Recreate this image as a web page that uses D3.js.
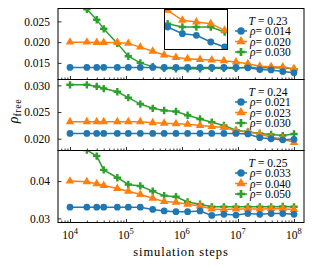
<!DOCTYPE html>
<html>
<head>
<meta charset="utf-8">
<script src="https://cdn.jsdelivr.net/npm/d3@7"></script>
<style>
	body { margin: 0; background: #fff; }
	text { font-family: "Liberation Serif", serif; fill: #000; }
</style>
</head>
<body>
<svg id="chart" width="316" height="268"></svg>
<script>
// Simulation steps, shared by every curve
var steps = [1e4, 2e4, 3e4, 4e4, 7e4, 1.1e5, 1.8e5, 3e5, 4.8e5, 7.8e5,
	1.26e6, 2.1e6, 3.4e6, 5.6e6, 9.2e6, 1.5e7, 2.45e7, 3.9e7, 6.3e7, 1e8]

var temps = ["0.23", "0.24", "0.25"]

// T = 0.23
var rho023 = ["0.014", "0.020", "0.030"]
var free023_a = [0.0139, 0.0139, 0.0139, 0.0139, 0.0139, 0.0139, 0.0139, 0.0139, 0.0139, 0.0139,
	0.0139, 0.0139, 0.0139, 0.0139, 0.0139, 0.0138, 0.0134, 0.0133, 0.0129, 0.0126]
var free023_b = [0.0200, 0.0200, 0.0199, 0.0199, 0.0199, 0.0197, 0.0188, 0.0178, 0.0169, 0.0163,
	0.0160, 0.0158, 0.0157, 0.0155, 0.0152, 0.0148, 0.0142, 0.0141, 0.0140, 0.0136]
var free023_c = [0.0298, 0.0279, 0.0254, 0.0232, 0.0197, 0.0166, 0.0150, 0.0141, 0.0137, 0.0136,
	0.0136, 0.0136, 0.0137, 0.0137, 0.0137, 0.0140, 0.0138, 0.0138, 0.0138, 0.0135]

// T = 0.24
var rho024 = ["0.021", "0.023", "0.030"]
var free024_a = [0.0210, 0.0210, 0.0210, 0.0210, 0.0210, 0.0210, 0.0210, 0.0210, 0.0210, 0.0210,
	0.0210, 0.0210, 0.0210, 0.0210, 0.0210, 0.0209, 0.0202, 0.0200, 0.0198, 0.0199]
var free024_b = [0.0232, 0.0232, 0.0232, 0.0232, 0.0232, 0.0232, 0.0232, 0.0230, 0.0229, 0.0228,
	0.0227, 0.0225, 0.0223, 0.0221, 0.0215, 0.0212, 0.0209, 0.0203, 0.0200, 0.0193]
var free024_c = [0.0301, 0.0301, 0.0298, 0.0294, 0.0288, 0.0277, 0.0265, 0.0257, 0.0253, 0.0251,
	0.0244, 0.0237, 0.0231, 0.0225, 0.0216, 0.0213, 0.0210, 0.0208, 0.0206, 0.0209]

// T = 0.25
var rho025 = ["0.033", "0.040", "0.050"]
var free025_a = [0.0330, 0.0330, 0.0330, 0.0330, 0.0330, 0.0330, 0.0330, 0.0324, 0.0320, 0.0318,
	0.0318, 0.0320, 0.0308, 0.0311, 0.0309, 0.0313, 0.0311, 0.0313, 0.0313, 0.0311]
var free025_b = [0.0400, 0.0398, 0.0393, 0.0388, 0.0380, 0.0373, 0.0364, 0.0354, 0.0345, 0.0343,
	0.0338, 0.0333, 0.0325, 0.0324, 0.0325, 0.0325, 0.0325, 0.0326, 0.0326, 0.0324]
var free025_c = [0.0500, 0.0483, 0.0467, 0.0430, 0.0409, 0.0391, 0.0387, 0.0373, 0.0361, 0.0358,
	0.0344, 0.0338, 0.0331, 0.0331, 0.0331, 0.0331, 0.0331, 0.0331, 0.0332, 0.0331]

// Tick values
var xTicks = [1e4, 1e5, 1e6, 1e7, 1e8]
var yTicks023 = [0.015, 0.020, 0.025]
var yTicks024 = [0.020, 0.025, 0.030]
var yTicks025 = [0.03, 0.04]

var colors = ["#1f77b4", "#ff7f0e", "#2ca02c"]
var symbols = [d3.symbolCircle, d3.symbolTriangle, d3.symbolCross]
var symbolSizes = [36, 32, 30]

var left = 58, right = 304

var panels = [
	{ top: 8.5, bottom: 79.5, domain: [0.0110, 0.0281], ticks: yTicks023, fmt: ".3f", temp: temps[0], rhos: rho023, series: [free023_a, free023_b, free023_c] },
	{ top: 79.5, bottom: 150.5, domain: [0.0178, 0.0311], ticks: yTicks024, fmt: ".3f", temp: temps[1], rhos: rho024, series: [free024_a, free024_b, free024_c] },
	{ top: 150.5, bottom: 222.5, domain: [0.0289, 0.0482], ticks: yTicks025, fmt: ".2f", temp: temps[2], rhos: rho025, series: [free025_a, free025_b, free025_c] }
]

var svg = d3.select("#chart")

// log x scale: 10^4 .. 10^8 span 56px per decade
var x = d3.scaleLog()
	.domain([6105, 1.509e8])
	.range([left, right])

// minor ticks 2..9 x 10^k inside the domain
var minorTicks = []
d3.range(3, 9).forEach(function (e) {
	d3.range(2, 10).forEach(function (m) {
		var v = m * Math.pow(10, e)
		if (v > x.domain()[0] && v < x.domain()[1]) minorTicks.push(v)
	})
})

function drawSeries(g, xs, ys, k, values) {
	var pts = d3.zip(steps, values)
	g.append("path")
		.datum(pts)
		.attr("fill", "none")
		.attr("stroke", colors[k])
		.attr("stroke-width", 1.5)
		.attr("d", d3.line()
			.x(function (d) { return xs(d[0]) })
			.y(function (d) { return ys(d[1]) }))
	g.selectAll(".m" + k)
		.data(pts)
		.enter()
		.append("path")
		.attr("class", "m" + k)
		.attr("fill", colors[k])
		.attr("d", d3.symbol().type(symbols[k]).size(symbolSizes[k]))
		.attr("transform", function (d) {
			return "translate(" + xs(d[0]) + "," + ys(d[1]) + ")"
		})
}

panels.forEach(function (p, i) {
	var y = d3.scaleLinear()
		.domain(p.domain)
		.range([p.bottom, p.top])

	var clipId = "clip-" + i
	svg.append("clipPath")
		.attr("id", clipId)
		.append("rect")
		.attr("x", left)
		.attr("y", p.top)
		.attr("width", right - left)
		.attr("height", p.bottom - p.top)

	var plot = svg.append("g").attr("clip-path", "url(#" + clipId + ")")

	// green first so the blue markers sit on top
	for (var k = 2; k >= 0; k--) {
		drawSeries(plot, x, y, k, p.series[k])
	}

	// x ticks, pointing inward
	var xMajor = svg.append("g")
		.attr("transform", "translate(0," + p.bottom + ")")
		.call(d3.axisBottom(x).tickValues(xTicks).tickSizeInner(-3.5).tickSizeOuter(0).tickFormat(""))
	var xMinor = svg.append("g")
		.attr("transform", "translate(0," + p.bottom + ")")
		.call(d3.axisBottom(x).tickValues(minorTicks).tickSizeInner(-2).tickSizeOuter(0).tickFormat(""))
	xMajor.select(".domain").remove()
	xMinor.select(".domain").remove()

	// y ticks
	var yAxis = svg.append("g")
		.attr("transform", "translate(" + left + ",0)")
		.call(d3.axisLeft(y).tickValues(p.ticks).tickSizeInner(-3.5).tickSizeOuter(0).tickPadding(8).tickFormat(d3.format(p.fmt)))
	yAxis.select(".domain").remove()
	yAxis.selectAll("text")
		.attr("font-family", "Liberation Serif")
		.attr("font-size", 11.5)

	svg.selectAll(".tick line").attr("stroke-width", 0.8)

	// frame
	svg.append("rect")
		.attr("x", left)
		.attr("y", p.top)
		.attr("width", right - left)
		.attr("height", p.bottom - p.top)
		.attr("fill", "none")
		.attr("stroke", "#000")
		.attr("stroke-width", 1)

	// legend
	var lg = svg.append("g")
	var title = lg.append("text")
		.attr("x", 268)
		.attr("y", p.top + 12)
		.attr("dy", "0.35em")
		.attr("text-anchor", "middle")
		.attr("font-size", 11.5)
	title.append("tspan").attr("font-style", "italic").text("T")
	title.append("tspan").text(" = " + p.temp)

	p.rhos.forEach(function (r, k) {
		var ry = p.top + 22.5 + k * 10.5
		lg.append("line")
			.attr("x1", 235).attr("x2", 247)
			.attr("y1", ry).attr("y2", ry)
			.attr("stroke", colors[k])
			.attr("stroke-width", 1.5)
		lg.append("path")
			.attr("fill", colors[k])
			.attr("d", d3.symbol().type(symbols[k]).size(symbolSizes[k] * 1.2))
			.attr("transform", "translate(241," + ry + ")")
		var t = lg.append("text")
			.attr("x", 250)
			.attr("y", ry)
			.attr("dy", "0.35em")
			.attr("font-size", 11.5)
		t.append("tspan").attr("font-style", "italic").text("ρ")
		t.append("tspan").text("= " + r)
	})

	// zoomed inset of the tail, top panel only
	if (i == 0) {
		var ix0 = 164.5, ix1 = 227.5, iy0 = 9.5, iy1 = 49.5
		var xi = d3.scaleLog().domain([1.35e7, 1.1e8]).range([ix0, ix1])
		var yi = d3.scaleLinear().domain([0.01245, 0.01485]).range([iy1, iy0])
		svg.append("rect")
			.attr("x", ix0).attr("y", iy0)
			.attr("width", ix1 - ix0).attr("height", iy1 - iy0)
			.attr("fill", "#fff")
		svg.append("clipPath")
			.attr("id", "clip-inset")
			.append("rect")
			.attr("x", ix0).attr("y", iy0)
			.attr("width", ix1 - ix0).attr("height", iy1 - iy0)
		var inset = svg.append("g").attr("clip-path", "url(#clip-inset)")
		for (var k = 2; k >= 0; k--) {
			drawSeries(inset, xi, yi, k, p.series[k])
		}
		svg.append("rect")
			.attr("x", ix0).attr("y", iy0)
			.attr("width", ix1 - ix0).attr("height", iy1 - iy0)
			.attr("fill", "none")
			.attr("stroke", "#000")
			.attr("stroke-width", 1)
	}
})

// x tick labels on the bottom panel: 10^k
xTicks.forEach(function (v) {
	var t = svg.append("text")
		.attr("x", x(v))
		.attr("y", 239)
		.attr("text-anchor", "middle")
		.attr("font-size", 11.5)
	t.append("tspan").text("10")
	t.append("tspan")
		.attr("dy", -5)
		.attr("font-size", 8.5)
		.text(Math.round(Math.log10(v)))
})

// axis labels
svg.append("text")
	.attr("x", 181)
	.attr("y", 256)
	.attr("text-anchor", "middle")
	.attr("font-size", 12.5)
	.attr("letter-spacing", 0.9)
	.text("simulation steps")

var yl = svg.append("text")
	.attr("transform", "translate(18,111) rotate(-90)")
	.attr("text-anchor", "middle")
	.attr("font-size", 14)
yl.append("tspan").attr("font-style", "italic").text("ρ")
yl.append("tspan")
	.attr("dy", 3)
	.attr("font-size", 10)
	.attr("letter-spacing", 0.6)
	.text("free")
</script>
</body>
</html>
